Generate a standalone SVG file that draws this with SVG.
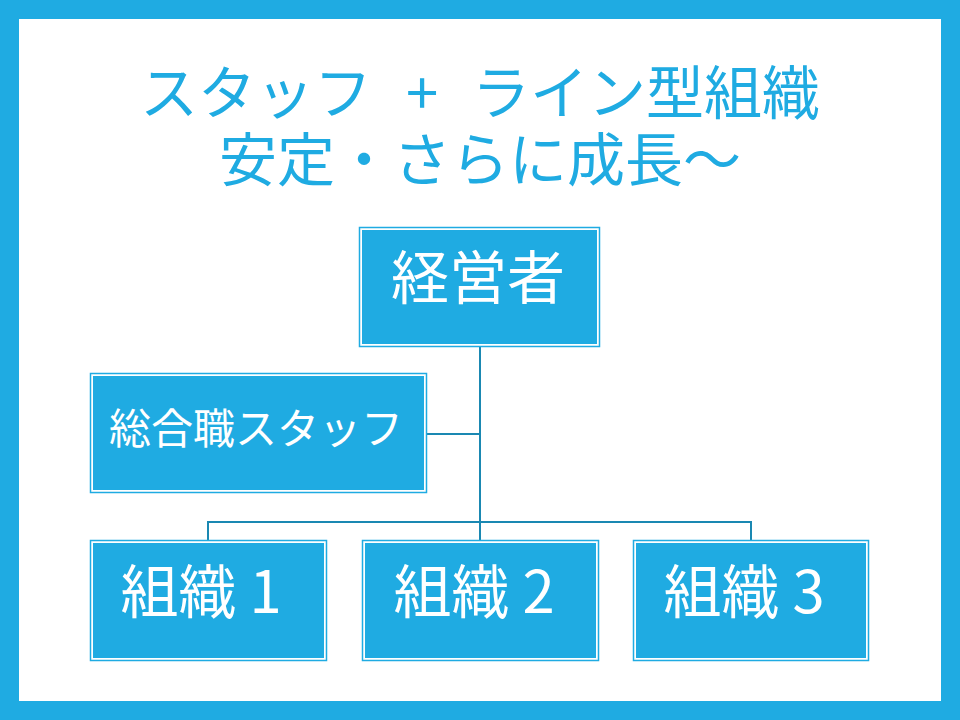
<svg xmlns="http://www.w3.org/2000/svg" width="960" height="720" viewBox="0 0 960 720">
<style>
.ol{fill:none;stroke:#1fabe2;stroke-width:1.5}
.in{fill:#1fabe2}
.t{font-family:"Noto Sans CJK JP","Noto Sans",sans-serif;fill:#ffffff;text-anchor:middle}
.title{font-family:"Noto Sans CJK JP","Noto Sans",sans-serif;fill:#1fabe2;text-anchor:middle;font-size:58px}
.c{fill:none;stroke:#1a88b2;stroke-width:2}
</style>
<rect x="0" y="0" width="960" height="720" fill="#1fabe2"/>
<rect x="19" y="19" width="922" height="682" fill="#ffffff"/>
<text class="title" x="480" y="114" word-spacing="21">スタッフ + ライン型組織</text>
<text class="title" x="480" y="181">安定・さらに成長～</text>
<g id="connectors">
<path class="c" d="M480,347 V522"/>
<path class="c" d="M427,434 H480"/>
<path class="c" d="M208,540 V522 H751 V540"/>
<path class="c" d="M480,522 V540"/>
</g>
<g id="keieisha">
<rect class="ol" x="359.5" y="227.5" width="240" height="119"/>
<rect class="in" x="362" y="230" width="235" height="114"/>
<text class="t" x="478" y="299" font-size="58">経営者</text>
</g>
<g id="staff">
<rect class="ol" x="90.5" y="373.5" width="336" height="119"/>
<rect class="in" x="93" y="376" width="331" height="114"/>
<text class="t" x="256" y="444" font-size="42">総合職スタッフ</text>
</g>
<g id="soshiki1">
<rect class="ol" x="90.5" y="540.5" width="236" height="120"/>
<rect class="in" x="93" y="543" width="231" height="115"/>
<text class="t" x="201" y="613" font-size="58">組織 1</text>
</g>
<g id="soshiki2">
<rect class="ol" x="362.5" y="540.5" width="236" height="120"/>
<rect class="in" x="365" y="543" width="231" height="115"/>
<text class="t" x="474" y="613" font-size="58">組織 2</text>
</g>
<g id="soshiki3">
<rect class="ol" x="633.5" y="540.5" width="235" height="120"/>
<rect class="in" x="636" y="543" width="230" height="115"/>
<text class="t" x="744" y="613" font-size="58">組織 3</text>
</g>
</svg>
